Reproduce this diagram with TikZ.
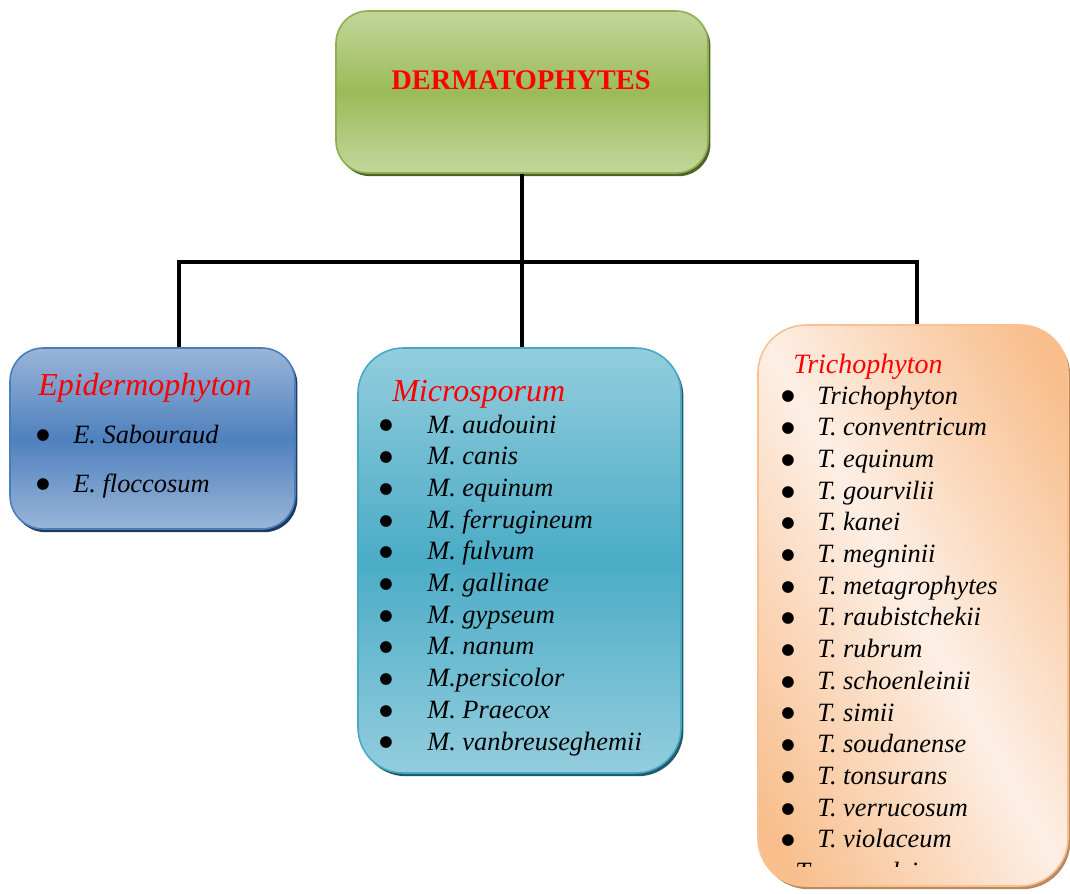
\documentclass[tikz,border=0pt]{standalone}
\usepackage{fontspec}
\setmainfont{Liberation Serif}
\newfontfamily\bulfont{DejaVu Sans}
\usetikzlibrary{shadows}
\definecolor{gTop}{HTML}{C3D69B}
\definecolor{gMid}{HTML}{9BBB59}
\definecolor{gLine}{HTML}{8EB04F}
\definecolor{gShadow}{HTML}{4F6228}
\definecolor{bTop}{HTML}{9AB5D9}
\definecolor{bMid}{HTML}{4F81BD}
\definecolor{bLine}{HTML}{4A7EBB}
\definecolor{bShadow}{HTML}{1F3A5F}
\definecolor{tTop}{HTML}{93CDDD}
\definecolor{tMid}{HTML}{4BACC6}
\definecolor{tLine}{HTML}{46AAC5}
\definecolor{tShadow}{HTML}{215968}
\definecolor{oDark}{HTML}{F8BE8C}
\definecolor{oLight}{HTML}{FDEFE5}
\definecolor{oLine}{HTML}{F9C193}
\definecolor{oShadow}{HTML}{B88A5E}
\definecolor{hdred}{HTML}{FF0000}
\pgfdeclareverticalshading{oshade}{100bp}{color(0bp)=(oDark); color(33bp)=(oDark); color(50bp)=(oLight); color(67bp)=(oDark); color(100bp)=(oDark)}
\begin{document}
\begin{tikzpicture}[x=0.75pt,y=-0.75pt,
  box/.style={rectangle, inner sep=0pt, line width=1.2pt},
  conn/.style={line width=2.6pt, black},
  title/.style={font=\fontsize{21.3}{25}\selectfont\bfseries, text=hdred, inner sep=0pt, anchor=base},
  head/.style={font=\fontsize{24}{28}\selectfont\itshape, text=hdred, inner sep=0pt, anchor=base west},
  headsm/.style={font=\fontsize{21}{25}\selectfont\itshape, text=hdred, inner sep=0pt, anchor=base west},
  item/.style={font=\fontsize{19.8}{24}\selectfont\itshape, inner sep=0pt, anchor=base west},
  bul/.style={font=\bulfont\fontsize{11.5}{12}\selectfont, inner sep=0pt, anchor=center}]
\useasboundingbox (0,0) rectangle (1070,893);
\clip (0,0) rectangle (1070,893);

% boxes
\node[box, draw=gLine, top color=gTop, bottom color=gTop, middle color=gMid,
  rounded corners=24pt, minimum width=279pt, minimum height=121.5pt,
  drop shadow={shadow xshift=1.8pt, shadow yshift=-2.4pt, fill=gShadow, opacity=1}]
  (top) at (522,92) {};
\node[box, draw=bLine, top color=bTop, bottom color=bTop, middle color=bMid,
  rounded corners=25pt, minimum width=213.75pt, minimum height=135.75pt,
  drop shadow={shadow xshift=1.8pt, shadow yshift=-2.4pt, fill=bShadow, opacity=1}]
  (left) at (152.5,438.5) {};
\node[box, draw=tLine, top color=tTop, bottom color=tTop, middle color=tMid,
  rounded corners=34pt, minimum width=242.25pt, minimum height=318.75pt,
  drop shadow={shadow xshift=1.8pt, shadow yshift=-2.4pt, fill=tShadow, opacity=1}]
  (mid) at (519.5,560.5) {};
% right box: shadow, diagonal shading, outline
\fill[oShadow, rounded corners=36pt] (760.4,328.2) rectangle (1070.4,889.2);
\begin{scope}
  \clip[rounded corners=36pt] (758,325) rectangle (1068,886);
  \shade[shading=oshade, shading angle=-61]
    (563,255.5) rectangle (1263,955.5);
\end{scope}
\node[box, draw=oLine, rounded corners=36pt, minimum width=232.5pt, minimum height=420.75pt]
  (right) at (913,605.5) {};

% connectors
\coordinate (bar) at (0,262);
\draw[conn] (top.south) -- (top.south |- mid.north);
\draw[conn] ([xshift=19.875pt]left.north) -- ([xshift=19.875pt]left.north |- bar)
  -- ([xshift=3pt]right.north |- bar) -- ([xshift=3pt]right.north);

% title
\node[title] (ttl) at (521,89) {DERMATOPHYTES};

% left box
\node[head] (eh) at (38,395) {Epidermophyton};
\node[bul] (eb0) at (43,436) {●};
\node[item] (ei0) at (73,443) {E. Sabouraud};
\node[bul] (eb1) at (43,485) {●};
\node[item] (ei1) at (73,492) {E. floccosum};

% middle box
\node[head] (mh) at (392,401) {Microsporum};
\foreach \t [count=\i from 0] in {M. audouini, M. canis, M. equinum, M. ferrugineum,
  M. fulvum, M. gallinae, M. gypseum, M. nanum, M.persicolor, M. Praecox, M. vanbreuseghemii}{
  \node[bul] (mb\i) at (386,{426+31.7*\i}) {●};
  \node[item] (mi\i) at (427,{433+31.7*\i}) {\t};
}

% right box
\node[headsm] (th) at (793,373) {Trichophyton};
\foreach \t [count=\i from 0] in {Trichophyton, T. conventricum, T. equinum, T. gourvilii,
  T. kanei, T. megninii, T. metagrophytes, T. raubistchekii, T. rubrum, T. schoenleinii,
  T. simii, T. soudanense, T. tonsurans, T. verrucosum, T. violaceum}{
  \node[bul] (tb\i) at (788,{397+31.7*\i}) {●};
  \node[item] (ti\i) at (817,{404+31.7*\i}) {\t};
}
\begin{scope}
  \clip (760,850) rectangle (1060,866);
  \node[item] (tlast) at (795,880) {T. yaoundei};
\end{scope}
\end{tikzpicture}
\end{document}
